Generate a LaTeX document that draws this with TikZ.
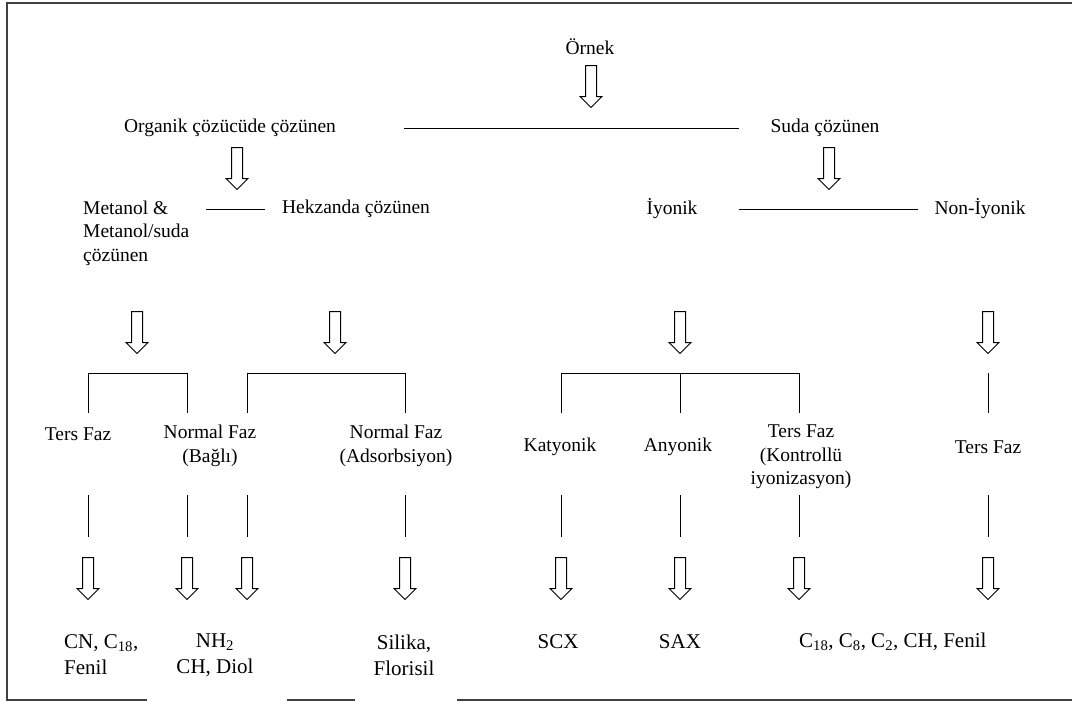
\documentclass[tikz,border=0pt]{standalone}
\usepackage{fontspec}
\setmainfont{Liberation Serif}
\usetikzlibrary{shapes.arrows,positioning,calc}
\tikzset{
    txt/.style={font=\fontsize{19.5}{23.5}\selectfont, inner sep=0pt, align=center},
    restxt/.style={font=\fontsize{21}{26}\selectfont, inner sep=0pt, align=center},
    downarrow/.style={single arrow, draw, shape border rotate=270, anchor=tail, minimum height=42pt, minimum width=21pt, single arrow head extend=5.5pt, inner sep=5pt, line width=1pt},
    line/.style={draw, line width=1pt},
    frame/.style={draw, line width=2pt, black!75}
}
\begin{document}
\begin{tikzpicture}[x=1pt,y=-1pt]
    \useasboundingbox (0,0) rectangle (1072,702);
    % Frame
    \draw [frame] (1072,3) -- (7,3) -- (7,700) -- (147,700);
    \draw [frame] (287,700) -- (355,700);
    \draw [frame] (457,700) -- (1072,700);

    % Sample
    \node [txt] (ornek) at (590,47) {Örnek};
    \node [downarrow] (ar0) at (591,65) {};

    % Solubility
    \node [txt] (org) at (230,128) {Organik çözücüde çözünen};
    \node [txt] (suda) at (825,128) {Suda çözünen};
    \node [downarrow] (ar1) at (237,147) {};
    \node [downarrow] (ar2) at (829,147) {};

    % Second level
    \node [txt, align=left, anchor=west] (meta) at (83,233) {Metanol \&\\Metanol/suda\\çözünen};
    \node [txt] (hek) at (356,209) {Hekzanda çözünen};
    \node [txt] (iyon) at (672,209) {İyonik};
    \node [txt] (noniyon) at (980,209) {Non-İyonik};
    \node [downarrow] (ar3) at (137,311) {};
    \node [downarrow] (ar4) at (335,311) {};
    \node [downarrow] (ar5) at (680,311) {};
    \node [downarrow] (ar6) at (988,311) {};

    % Bracket columns
    \foreach \name/\x in {c1/88, c2/187, c3/247, c4/405, c5/561, c6/680, c7/799, c8/988}{
        \coordinate (\name) at (\x,373);
    }

    % Phases
    \node [txt] (tf1) at (78,434) {Ters Faz};
    \node [txt] (nf1) at (210,446) {Normal Faz\\(Bağlı)};
    \node [txt] (nf2) at (396,446) {Normal Faz\\(Adsorbsiyon)};
    \node [txt] (kat) at (560,447) {Katyonik};
    \node [txt] (any) at (678,447) {Anyonik};
    \node [txt] (tf2) at (801,457) {Ters Faz\\(Kontrollü\\iyonizasyon)};
    \node [txt] (tf3) at (988,447) {Ters Faz};

    % Lower arrows
    \foreach \name/\x in {b1/88, b2/187, b3/247, b4/405, b5/561, b6/680, b7/799, b8/988}{
        \node [downarrow] (\name) at (\x,557) {};
    }

    % Sorbents
    \node [restxt, align=left, anchor=west] (res1) at (64,655) {CN, C\textsubscript{18},\\Fenil};
    \node [restxt] (res2) at (215,655) {NH\textsubscript{2}\\CH, Diol};
    \node [restxt] (res3) at (404,655) {Silika,\\Florisil};
    \node [restxt] (scx) at (558,642) {SCX};
    \node [restxt] (sax) at (680,642) {SAX};
    \node [restxt, anchor=west] (res4) at (799,642) {C\textsubscript{18}, C\textsubscript{8}, C\textsubscript{2}, CH, Fenil};

    % Connections
    \path [line] ([xshift=68pt]org.east) -- ([xshift=-31pt]suda.west);
    \path [line] ([xshift=-76pt]hek.west) -- ([xshift=-17pt]hek.west);
    \path [line] ([xshift=41pt]iyon.east) -- ([xshift=-16pt]noniyon.west);
    \path [line] (c1) ++(0,40) -- (c1) -- (c2) -- ++(0,40);
    \path [line] (c3) ++(0,40) -- (c3) -- (c4) -- ++(0,40);
    \path [line] (c5) ++(0,40) -- (c5) -- (c7) -- ++(0,40);
    \path [line] (c6) -- ++(0,40);
    \path [line] (c8) -- ++(0,40);
    \foreach \name in {b1,b2,b3,b4,b5,b6,b7,b8}{
        \path [line] (\name.tail) ++(0,-62) -- ++(0,42);
    }
\end{tikzpicture}
\end{document}
